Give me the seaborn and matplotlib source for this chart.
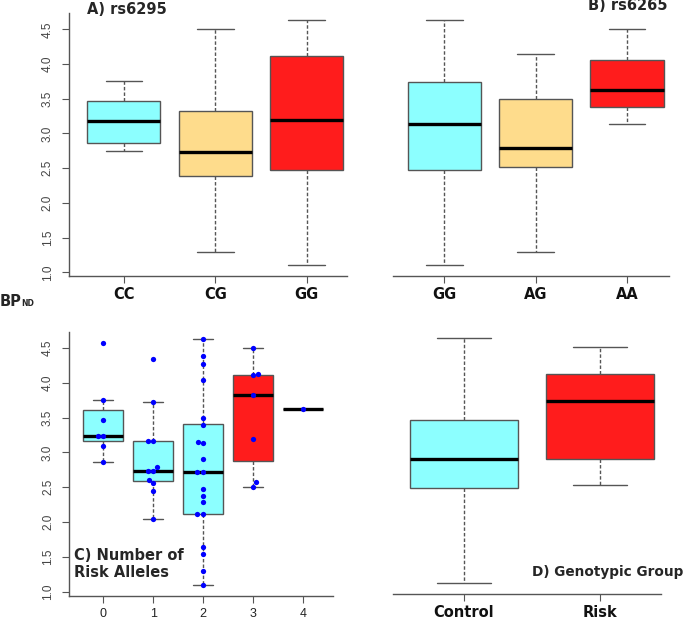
import pandas as pd
import seaborn as sns
import matplotlib.pyplot as plt

CYAN = "#8cffff"
GOLD = "#fedc8c"
RED = "#ff1c1c"
EDGE = "#555555"

# five-number summaries: min, lower hinge, median, upper hinge, max
rs6295_genotypes = ["CC", "CG", "GG"]
rs6295_cc = [2.74, 2.86, 3.18, 3.46, 3.76]
rs6295_cg = [1.29, 2.39, 2.73, 3.33, 4.51]
rs6295_gg = [1.10, 2.48, 3.20, 4.11, 4.63]

rs6265_genotypes = ["GG", "AG", "AA"]
rs6265_gg = [1.10, 2.48, 3.13, 3.74, 4.63]
rs6265_ag = [1.29, 2.51, 2.79, 3.49, 4.14]
rs6265_aa = [3.13, 3.38, 3.62, 4.06, 4.51]

# individual BPnd values by number of risk alleles (panel C points)
risk_alleles = ["0", "1", "2", "3", "4"]
alleles_0 = [4.57, 3.76, 3.46, 3.23, 3.23, 3.09, 2.86]
alleles_1 = [4.34, 3.73, 3.17, 3.17, 2.79, 2.74, 2.74, 2.61, 2.56, 2.45, 2.05]
alleles_2 = [4.63, 4.39, 4.27, 4.04, 3.49, 3.39, 3.15, 3.13, 2.91, 2.72,
             2.72, 2.47, 2.38, 2.29, 2.12, 2.12, 1.64, 1.54, 1.30, 1.10]
alleles_3 = [4.50, 4.13, 4.11, 3.82, 3.19, 2.57, 2.51]
alleles_4 = [3.62]

genotypic_groups = ["Control", "Risk"]
control = [1.11, 2.47, 2.89, 3.46, 4.64]
risk = [2.52, 2.89, 3.73, 4.13, 4.51]

Y_TICKS = [1.0, 1.5, 2.0, 2.5, 3.0, 3.5, 4.0, 4.5]
YLIM = (0.946, 4.735)


def long_df(names, columns, col):
    rows = []
    for name, vals in zip(names, columns):
        for v in vals:
            rows.append({col: name, "bp": v})
    return pd.DataFrame(rows)


def draw_boxes(ax, df, col, order, palette, whis):
    sns.boxplot(data=df, x=col, y="bp", hue=col, order=order, hue_order=order,
                palette=palette, saturation=1, legend=False, width=0.8, whis=whis,
                showfliers=False, linecolor=EDGE, linewidth=1.0,
                medianprops=dict(color="black", linewidth=2.4),
                whiskerprops=dict(linestyle=(0, (2.5, 1.5))),
                ax=ax)


def style_axes(ax, xlim, left_spine, bold_ticks=True):
    ax.set_xlabel("")
    ax.set_ylabel("")
    ax.set_xlim(*xlim)
    ax.set_ylim(*YLIM)
    sns.despine(ax=ax, left=not left_spine)
    for s in ["left", "bottom"]:
        ax.spines[s].set_color(EDGE)
        ax.spines[s].set_linewidth(1.0)
    ax.tick_params(axis="x", length=5, color=EDGE, pad=3)
    if bold_ticks:
        ax.tick_params(axis="x", labelsize=10.5)
        for lab in ax.get_xticklabels():
            lab.set_fontweight("bold")
            lab.set_color("#111111")
    else:
        ax.tick_params(axis="x", labelsize=9, labelcolor="#222222", pad=4)
        for lab in ax.get_xticklabels():
            lab.set_fontfamily("Liberation Sans")
    if left_spine:
        ax.set_yticks(Y_TICKS)
        ax.set_yticklabels([f"{t:.1f}" for t in Y_TICKS])
        ax.tick_params(axis="y", length=5, color=EDGE, pad=6,
                       labelsize=8.5, labelcolor="#444444", labelrotation=90)
        for lab in ax.get_yticklabels():
            lab.set_fontfamily("Liberation Sans")
            lab.set_va("center")
    else:
        ax.set_yticks([])


sns.set_style("ticks")
plt.rcParams["font.family"] = ["DejaVu Sans"]

W, H = 685, 621
fig = plt.figure(figsize=(W / 100, H / 100), dpi=100, facecolor="white")


def add_axes(left, right, top, bottom):
    return fig.add_axes([left / W, 1 - bottom / H, (right - left) / W, (bottom - top) / H])


ax_a = add_axes(69, 347, 13, 276)
ax_b = add_axes(392.7, 669, 13, 276)
ax_c = add_axes(69.3, 332.7, 331.7, 595.5)
ax_d = add_axes(392.7, 660.7, 331.7, 594)

# A) rs6295
df_a = long_df(rs6295_genotypes, [rs6295_cc, rs6295_cg, rs6295_gg], "geno")
draw_boxes(ax_a, df_a, "geno", rs6295_genotypes, [CYAN, GOLD, RED], (0, 100))
style_axes(ax_a, (-0.60, 2.44), True)

# B) rs6265
df_b = long_df(rs6265_genotypes, [rs6265_gg, rs6265_ag, rs6265_aa], "geno")
draw_boxes(ax_b, df_b, "geno", rs6265_genotypes, [CYAN, GOLD, RED], (0, 100))
style_axes(ax_b, (-0.566, 2.46), False)

# C) number of risk alleles
df_c = long_df(risk_alleles, [alleles_0, alleles_1, alleles_2, alleles_3, alleles_4], "alleles")
draw_boxes(ax_c, df_c, "alleles", risk_alleles, [CYAN, CYAN, CYAN, RED, RED], 1.5)
sns.swarmplot(data=df_c, x="alleles", y="bp", order=risk_alleles, color="#0000ff",
              size=3.8, linewidth=0, ax=ax_c)
style_axes(ax_c, (-0.68, 4.6), True, bold_ticks=False)

# D) genotypic group
df_d = long_df(genotypic_groups, [control, risk], "group")
draw_boxes(ax_d, df_d, "group", genotypic_groups, [CYAN, RED], (0, 100))
style_axes(ax_d, (-0.524, 1.446), False)

fig.text(87 / W, 1 - 10 / H, "A) rs6295", fontsize=10.5, fontweight="bold", va="center")
fig.text(588 / W, 1 - 6 / H, "B) rs6265", fontsize=10.5, fontweight="bold", va="center")
fig.text(74 / W, 1 - 564 / H, "C) Number of\nRisk Alleles", fontsize=10.5,
         fontweight="bold", va="center", linespacing=1.1)
fig.text(683 / W, 1 - 572 / H, "D) Genotypic Group", fontsize=9.8,
         fontweight="bold", va="center", ha="right")
fig.text(0, 1 - 306 / H, "BP", fontsize=10.5, fontweight="bold", va="baseline")
fig.text(21 / W, 1 - 306 / H, "ND", fontsize=5.5, fontweight="bold", va="baseline")

fig.savefig("out.png", dpi=100, facecolor="white")
